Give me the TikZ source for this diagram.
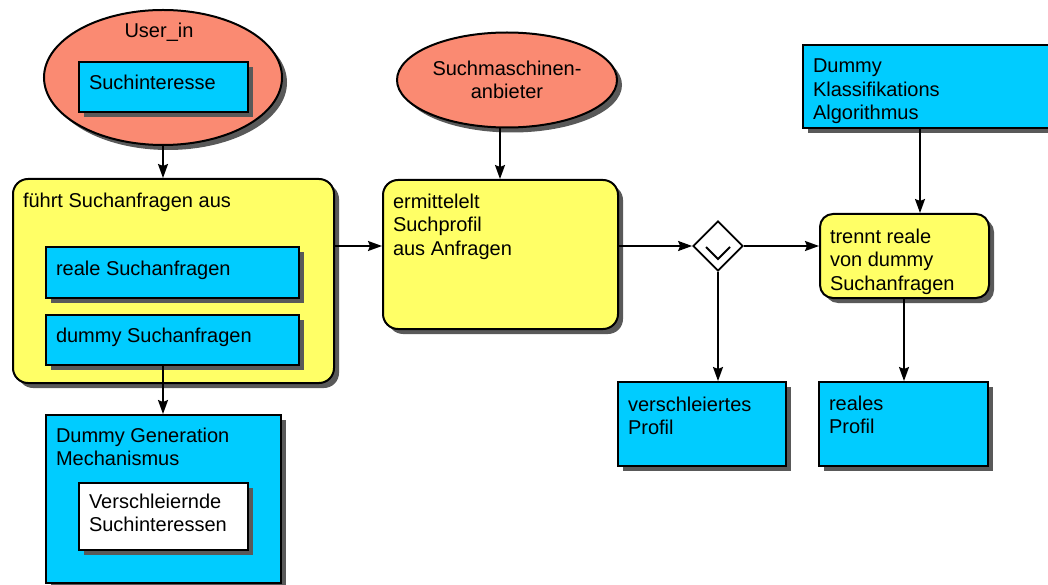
\documentclass[tikz,border=0pt]{standalone}
\usepackage{fontspec}
\setmainfont{Liberation Sans}
\usetikzlibrary{shapes.geometric,shadows,arrows.meta}
\definecolor{cy}{RGB}{0,204,255}
\definecolor{yl}{RGB}{255,255,102}
\definecolor{sal}{RGB}{250,138,114}
\newcommand{\tbx}[4]{\parbox[t][#2][t]{#1}{\raggedright\vspace*{#3}#4}}
\begin{document}
\begin{tikzpicture}[x=1pt,y=-1pt,font=\fontsize{20}{23.5}\selectfont,
  shd/.style={drop shadow={shadow xshift=5pt,shadow yshift=-5pt,fill=black!65,opacity=1}},
  basebox/.style={draw,line width=2pt,inner xsep=10pt,inner ysep=0pt,anchor=north west,shd},
  cbox/.style={basebox,fill=cy},
  wbox/.style={basebox,fill=white},
  ybox/.style={basebox,fill=yl,rounded corners=15pt},
  ell/.style={draw,ellipse,line width=2pt,fill=sal,inner sep=0pt,shd},
  conn/.style={line width=1.8pt,-{Stealth[length=14pt,width=10pt,inset=2pt]}}]
\useasboundingbox (0,0) rectangle (1048,585);
\clip (0,0) rectangle (1048,585);
% left column
\node[ell,minimum width=238pt,minimum height=135pt] (user) at (163,77.5) {};
\node (usertxt) at (159,32) {User\_in};
\node[cbox] (sint) at (78,61) {\tbx{149pt}{50pt}{13pt}{Suchinteresse}};
\node[ybox] (big) at (12,178) {\tbx{301pt}{204pt}{14pt}{führt Suchanfragen aus}};
\node[cbox] (real) at (45,246) {\tbx{233pt}{51pt}{14pt}{reale Suchanfragen}};
\node[cbox] (dummy) at (45,314) {\tbx{233pt}{50pt}{13pt}{dummy Suchanfragen}};
\node[cbox] (dgen) at (45,414) {\tbx{215pt}{168pt}{13pt}{Dummy Generation\\Mechanismus}};
\node[wbox] (versch) at (78,482) {\tbx{149pt}{67pt}{11pt}{Verschleiernde\\Suchinteressen}};
% middle
\node[ell,minimum width=220pt,minimum height=95pt,align=center,font=\fontsize{20}{23}\selectfont] (such) at (507,80) {Suchmaschinen-\\anbieter};
\node[ybox] (erm) at (382,179) {\tbx{215pt}{149pt}{14pt}{ermittelelt\\Suchprofil\\aus Anfragen}};
\node[draw,diamond,fill=white,minimum width=50pt,minimum height=50pt,inner sep=0pt,line width=1.8pt] (gw) at (718,246) {};
\draw[line width=1.8pt] ([shift={(-12,1)}]gw.center) -- ([shift={(0,13)}]gw.center) -- ([shift={(12,1)}]gw.center);
\node[cbox] (prof) at (617,381) {\tbx{148pt}{84pt}{15pt}{verschleiertes\\Profil}};
% right
\node[cbox] (klass) at (802,44) {\tbx{240pt}{83pt}{14pt}{Dummy\\Klassifikations\\Algorithmus}};
\node[ybox,rounded corners=13pt] (trennt) at (819,213) {\tbx{149pt}{84pt}{15pt}{trennt reale\\von dummy\\Suchanfragen}};
\node[cbox] (reales) at (818,381) {\tbx{149pt}{84pt}{14pt}{reales\\Profil}};
% connectors
\coordinate (row) at (0,246);
\draw[conn] (user.south) -- (user.south |- big.north);
\coordinate (dx) at (163,0);
\draw[conn] (dx |- dummy.south) -- (dx |- dgen.north);
\draw[conn] (row -| big.east) -- (row -| erm.west);
\coordinate (sx) at (500,0);
\draw[conn] (sx |- such.south) -- (sx |- erm.north);
\draw[conn] (row -| erm.east) -- (gw.west);
\draw[conn] (gw.east) -- (row -| trennt.west);
\draw[conn] (gw.south) -- (gw.south |- prof.north);
\coordinate (kx) at (920,0);
\draw[conn] (kx |- klass.south) -- (kx |- trennt.north);
\coordinate (tx) at (904,0);
\draw[conn] (tx |- trennt.south) -- (tx |- reales.north);
\end{tikzpicture}
\end{document}
